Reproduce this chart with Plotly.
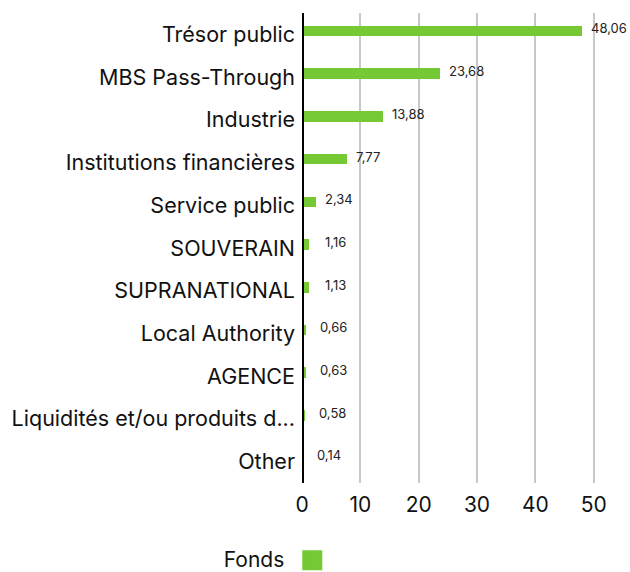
import plotly.graph_objects as go

categories = ["Trésor public", "MBS Pass-Through", "Industrie", "Institutions financières",
              "Service public", "SOUVERAIN", "SUPRANATIONAL", "Local Authority", "AGENCE",
              "Liquidités et/ou produits d...", "Other"]
values = [48.06, 23.68, 13.88, 7.77, 2.34, 1.16, 1.13, 0.66, 0.63, 0.58, 0.14]
series_name = "Fonds"
x_ticks = [0, 10, 20, 30, 40, 50]

GREEN = "#74C935"
FONT = "Inter"

labels = [f"{v:.2f}".replace(".", ",") for v in values]

fig = go.Figure()
fig.add_trace(go.Bar(
    x=values, y=categories, orientation="h",
    marker=dict(color=GREEN, line=dict(width=0)),
    width=0.25, offset=-0.205,
    showlegend=False, hoverinfo="skip",
))
# legend-only marker
fig.add_trace(go.Scatter(
    x=[None], y=[None], mode="markers", name=" ",
    marker=dict(symbol="square", size=16, color=GREEN, line=dict(color=GREEN, width=4)),
    showlegend=True,
))

annotations = []
for c, v, t in zip(categories, values, labels):
    annotations.append(dict(
        x=v, y=c, text=t, showarrow=False, xanchor="left", yanchor="middle",
        xshift=(12 if v < 1 else 14) if v < 2 else 7, yshift=7 if v < 0.5 else 6,
        font=dict(family=FONT, size=13, color="#222222"),
    ))

fig.update_layout(
    width=630, height=572,
    margin=dict(l=302, r=13, t=13, b=89),
    paper_bgcolor="white", plot_bgcolor="white",
    font=dict(family=FONT, color="#111111"),
    bargap=0,
    xaxis=dict(
        range=[0, 54], tickvals=x_ticks, ticktext=[str(t) for t in x_ticks],
        showgrid=True, gridcolor="#C8C8C8", gridwidth=2,
        zeroline=False, showline=False,
        tickfont=dict(family=FONT, size=21, color="#111111"),
        ticks="", ticklabelstandoff=7,
    ),
    yaxis=dict(
        type="category", categoryorder="array", categoryarray=categories,
        autorange="reversed", showgrid=False, zeroline=False,
        showline=False, ticks="",
        tickfont=dict(family=FONT, size=21.5, color="#111111"),
        ticklabelstandoff=6,
    ),
    shapes=[dict(type="line", xref="x", yref="paper", x0=0, x1=0, y0=0, y1=1,
                 line=dict(color="black", width=4))],
    annotations=annotations,
    showlegend=True,
    legend=dict(
        orientation="h", xref="container", x=0.352, xanchor="left",
        yref="container", y=0.02, yanchor="middle",
        title=dict(text=series_name, side="left",
                   font=dict(family=FONT, size=21, color="#111111")),
        font=dict(family=FONT, size=21), itemwidth=30,
    ),
)

fig.write_html("out.html")
